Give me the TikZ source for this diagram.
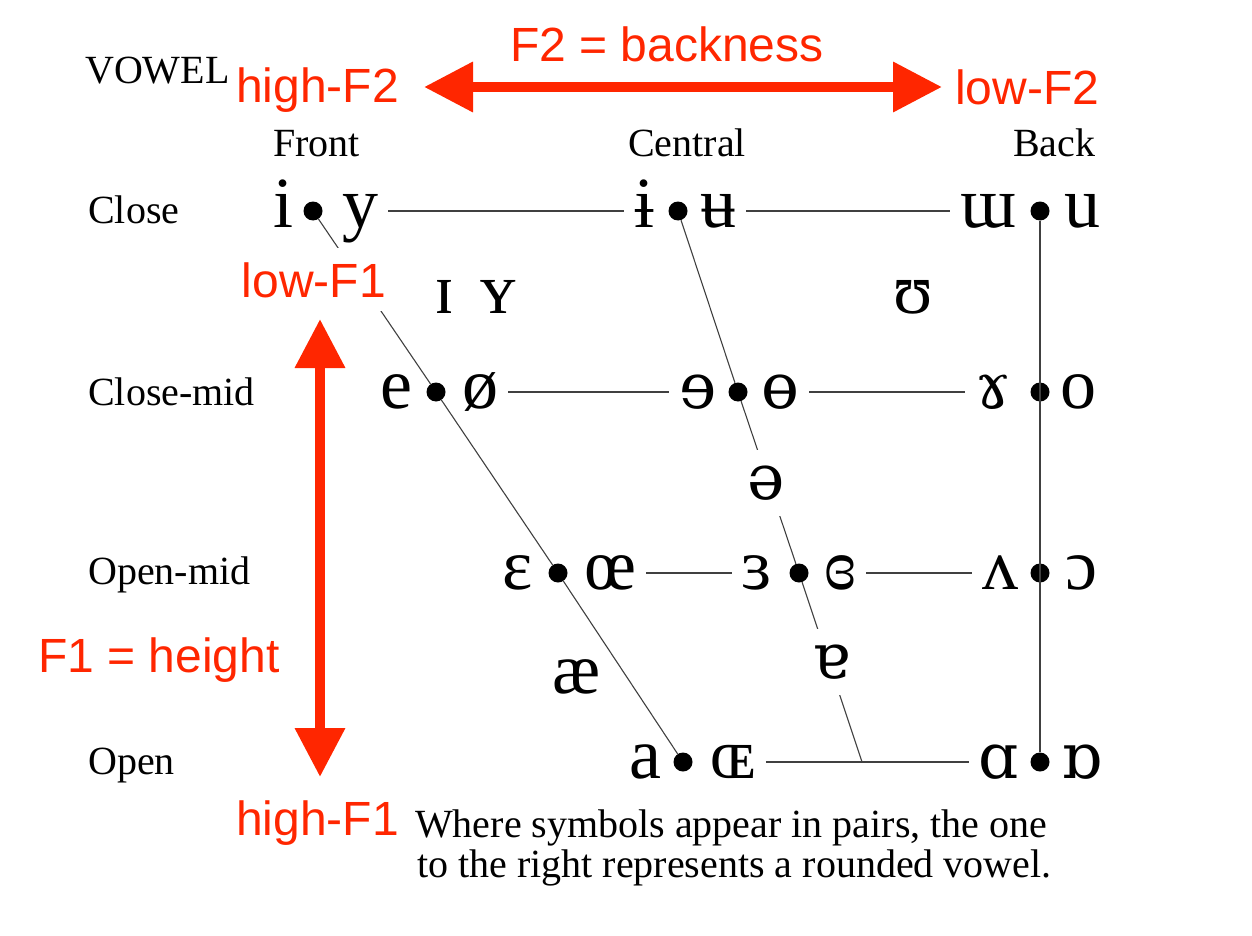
\documentclass[tikz,border=0pt]{standalone}
\usepackage{fontspec}
\setmainfont{Liberation Serif}
\newfontfamily\formantfont{Liberation Sans}
\newfontfamily\ipaextra{DejaVu Serif}
\usetikzlibrary{arrows.meta}

\definecolor{formantred}{RGB}{255,38,0}

\tikzset{
    vowel/.style={font=\fontsize{72}{72}\selectfont, inner ysep=0pt, inner xsep=10pt, text height=40pt, text depth=8pt},
    ipaserif/.style={font=\ipaextra\fontsize{63}{63}\selectfont},
    gapvowel/.style={vowel, fill=white, inner ysep=9pt},
    vdot/.style={circle, fill=black, inner sep=0pt, minimum size=19pt},
    chartlabel/.style={font=\fontsize{40}{40}\selectfont, inner sep=0pt, anchor=base west},
    formant/.style={font=\formantfont\fontsize{48}{48}\selectfont, text=formantred, inner sep=0pt, anchor=base west},
    chartline/.style={line width=1.1pt, black!75},
    formantarrow/.style={line width=10pt, formantred, {Triangle[width=48pt,length=49pt]}-{Triangle[width=48pt,length=49pt]}}
}

\begin{document}
\begin{tikzpicture}[x=1pt,y=-1pt]

    \useasboundingbox (0,0) rectangle (1252,936);

    % dots of the vowel pairs
    \node[vdot] (dCF)  at (313,211) {};
    \node[vdot] (dCC)  at (678,211) {};
    \node[vdot] (dCB)  at (1040,211) {};
    \node[vdot] (dCMF) at (436,392) {};
    \node[vdot] (dCMC) at (738,392) {};
    \node[vdot] (dCMB) at (1040,392) {};
    \node[vdot] (dOMF) at (558,573) {};
    \node[vdot] (dOMC) at (799,573) {};
    \node[vdot] (dOMB) at (1040,573) {};
    \node[vdot] (dOF)  at (683,762) {};
    \node[vdot] (dOB)  at (1040,762) {};
    \coordinate (openjoin) at (862,762);

    % vowel symbols
    \node[vowel] (vi)      at (283,211) {i};
    \node[vowel] (vy)      at (360,211) {y};
    \node[vowel] (vbari)   at (644,211) {ɨ};
    \node[vowel] (vbaru)   at (718,211) {ʉ};
    \node[vowel] (vturnm)  at (988,211) {ɯ};
    \node[vowel] (vu)      at (1082,211) {u};
    \node[vowel] (ve)      at (396,392) {e};
    \node[vowel] (voslash) at (480,392) {ø};
    \node[vowel, ipaserif] (vreve)  at (698,392) {ɘ};
    \node[vowel, ipaserif] (vbaro)  at (780,392) {ɵ};
    \node[vowel, ipaserif] (vgamma) at (993,392) {ɤ};
    \node[vowel] (vo)      at (1078,392) {o};
    \node[vowel] (veps)    at (518,573) {ɛ};
    \node[vowel] (voe)     at (610,573) {œ};
    \node[vowel] (vreveps) at (757,573) {ɜ};
    \node[vowel] (vcloseps) at (840,573) {ɞ};
    \node[vowel] (vturnv)  at (1000,573) {ʌ};
    \node[vowel] (vopeno)  at (1081,573) {ɔ};
    \node[vowel] (va)      at (645,762) {a};
    \node[vowel] (vsmalloe) at (733,762) {ɶ};
    \node[vowel, ipaserif] (vscripta) at (999,762) {ɑ};
    \node[vowel, ipaserif] (vturna)   at (1082,762) {ɒ};
    \node[vowel] (vsmalli) at (444,297) {ɪ};
    \node[vowel] (vsmally) at (498,297) {ʏ};
    \node[vowel] (vupsilon) at (913,297) {ʊ};
    \node[vowel] (vash)    at (577,677) {æ};

    % chart lines
    \draw[chartline] (vy.east) -- (vbari.west);
    \draw[chartline] (vbaru.east) -- (vturnm.west);
    \draw[chartline] (voslash.east) -- (vreve.west);
    \draw[chartline] (vbaro.east) -- (vgamma.west);
    \draw[chartline] (voe.east) -- (vreveps.west);
    \draw[chartline] (vcloseps.east) -- (vturnv.west);
    \draw[chartline] (vsmalloe.east) -- (vscripta.west);
    \draw[chartline] (dCF) -- (dCMF) -- (dOMF) -- (dOF);
    \draw[chartline] (dCC) -- (dCMC) -- (dOMC) -- (openjoin);
    \draw[chartline] (dCB) -- (dOB);

    % symbols sitting on the central line
    \node[gapvowel, ipaserif] (vschwa)  at (766,483) {ə};
    \node[gapvowel, ipaserif] (vturnaa) at (831,662) {ɐ};

    % headings
    \node[chartlabel] (vowelhead) at (85,84) {VOWEL};
    \node[chartlabel] (front)   at (273,157) {Front};
    \node[chartlabel] (central) at (628,157) {Central};
    \node[chartlabel] (back)    at (1013,157) {Back};
    \node[chartlabel] (close)     at (88,223) {Close};
    \node[chartlabel] (closemid)  at (88,405) {Close-mid};
    \node[chartlabel] (openmid)   at (88,584) {Open-mid};
    \node[chartlabel] (open)      at (88,774) {Open};
    \node[chartlabel] (note1) at (415,837) {Where symbols appear in pairs, the one};
    \node[chartlabel] (note2) at (417,877) {to the right represents a rounded vowel.};

    % formant labels
    \node[formant] (highFtwo) at (236,103) {high-F2};
    \node[formant] (lowFtwo)  at (955,105) {low-F2};
    \node[formant] (backness) at (510,62) {F2 = backness};
    \node[formant, anchor=base, fill=white, inner xsep=4pt, inner ysep=14pt] (lowFone) at (314,297) {low-F1};
    \node[formant] (height)   at (38,672) {F1 = height};
    \node[formant] (highFone) at (236,835) {high-F1};

    % formant arrows
    \coordinate (ftwoleft)  at (424,87);
    \coordinate (ftworight) at (942,87);
    \coordinate (fonetop)    at (320,319);
    \coordinate (fonebottom) at (320,777);
    \draw[formantarrow] (ftwoleft) -- (ftworight);
    \draw[formantarrow] (fonetop) -- (fonebottom);

\end{tikzpicture}
\end{document}
